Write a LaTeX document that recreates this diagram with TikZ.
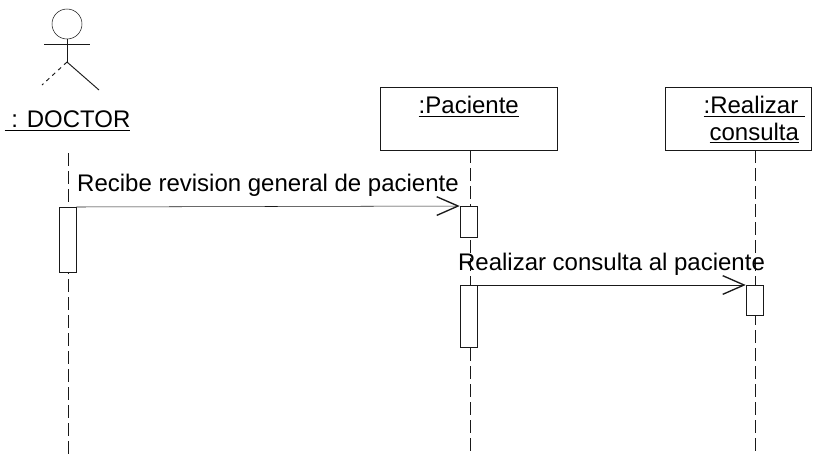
\documentclass[tikz,border=0pt]{standalone}
\usepackage{xcolor}
\usepackage{fontspec}
\setmainfont{Liberation Sans}
\usepackage{tikz}
\usetikzlibrary{arrows.meta,positioning}
\definecolor{inkgray}{rgb}{0.1,0.1,0.1}

\begin{document}
\begin{tikzpicture}[
    x=0.75pt, y=-0.75pt,
    font=\fontsize{18}{20}\selectfont,
    object/.style={rectangle, draw=inkgray, fill=white, text=black, align=center, anchor=north west,
                   minimum width=133pt, minimum height=47pt, inner sep=0pt},
    activation/.style={rectangle, draw=inkgray, fill=white, minimum width=12.75pt, anchor=north, inner sep=0pt},
    lifeline/.style={draw=inkgray, dash pattern=on 10pt off 3.5pt},
    message/.style={draw=inkgray, -{Straight Barb[length=16pt,width=14pt,line width=1pt]}},
    limb/.style={draw=inkgray, line width=0.7pt}
]
\useasboundingbox (0,0) rectangle (836,455);

% Actor
\node[circle, draw=inkgray, minimum size=22.5pt, inner sep=0pt] (head) at (67,24) {};
\coordinate (armleft) at (44,44);
\coordinate (armright) at (90,44);
\coordinate (hip) at (67,62);
\coordinate (footleft) at (42,85);
\coordinate (footright) at (99,90);
\node[inner sep=0pt] (doctor) at (67.5,121) {\underline{\ : DOCTOR}};

% Objects
\node[object, minimum width=132.75pt] (paciente) at (380,87) {};
\node[below=6pt of paciente.north, inner sep=1pt] (pacientelabel) {\underline{:Paciente}};
\node[object, minimum width=109.5pt] (realizar) at (665,87) {};
\node[below=6pt of realizar.north, xshift=12pt, inner sep=1pt, align=center] (realizarlabel) {\underline{:Realizar\ }\\\underline{consulta}};

% Lifeline ends
\coordinate (doctorstart) at (68,153);
\coordinate (doctorend) at (68,455);
\coordinate (pacienteend) at (470,455);
\coordinate (realizarend) at (755,455);
\coordinate (pacientestart) at (470,150);
\coordinate (realizarstart) at (755,150);

% Lifelines
\draw[lifeline] (doctorstart) -- (doctorend);
\draw[lifeline] (pacientestart) -- (pacienteend);
\draw[lifeline] (realizarstart) -- (realizarend);

% Activations
\node[activation, minimum height=48.75pt] (actdoctor) at (67.5,207) {};
\node[activation, minimum height=23.25pt] (actpaciente) at (468.5,206) {};
\node[activation, minimum height=46.5pt] (actconsulta) at (468.5,285) {};
\node[activation, minimum height=22.5pt] (actrealizar) at (754.5,285) {};

% Actor strokes
\draw[limb] (head) -- (hip);
\draw[limb] (armleft) -- (armright);
\draw[limb, dashed] (hip) -- (footleft);
\draw[limb] (hip) -- (footright);

% Messages
\draw[message] (actdoctor.north east) -- node[above=7pt, inner sep=0pt] (recibe) {Recibe revision general de paciente} (actpaciente.north west);
\draw[message] (actconsulta.north east) -- node[above=7pt, inner sep=0pt] (consulta) {Realizar consulta al paciente} (actrealizar.north west);

\end{tikzpicture}
\end{document}
